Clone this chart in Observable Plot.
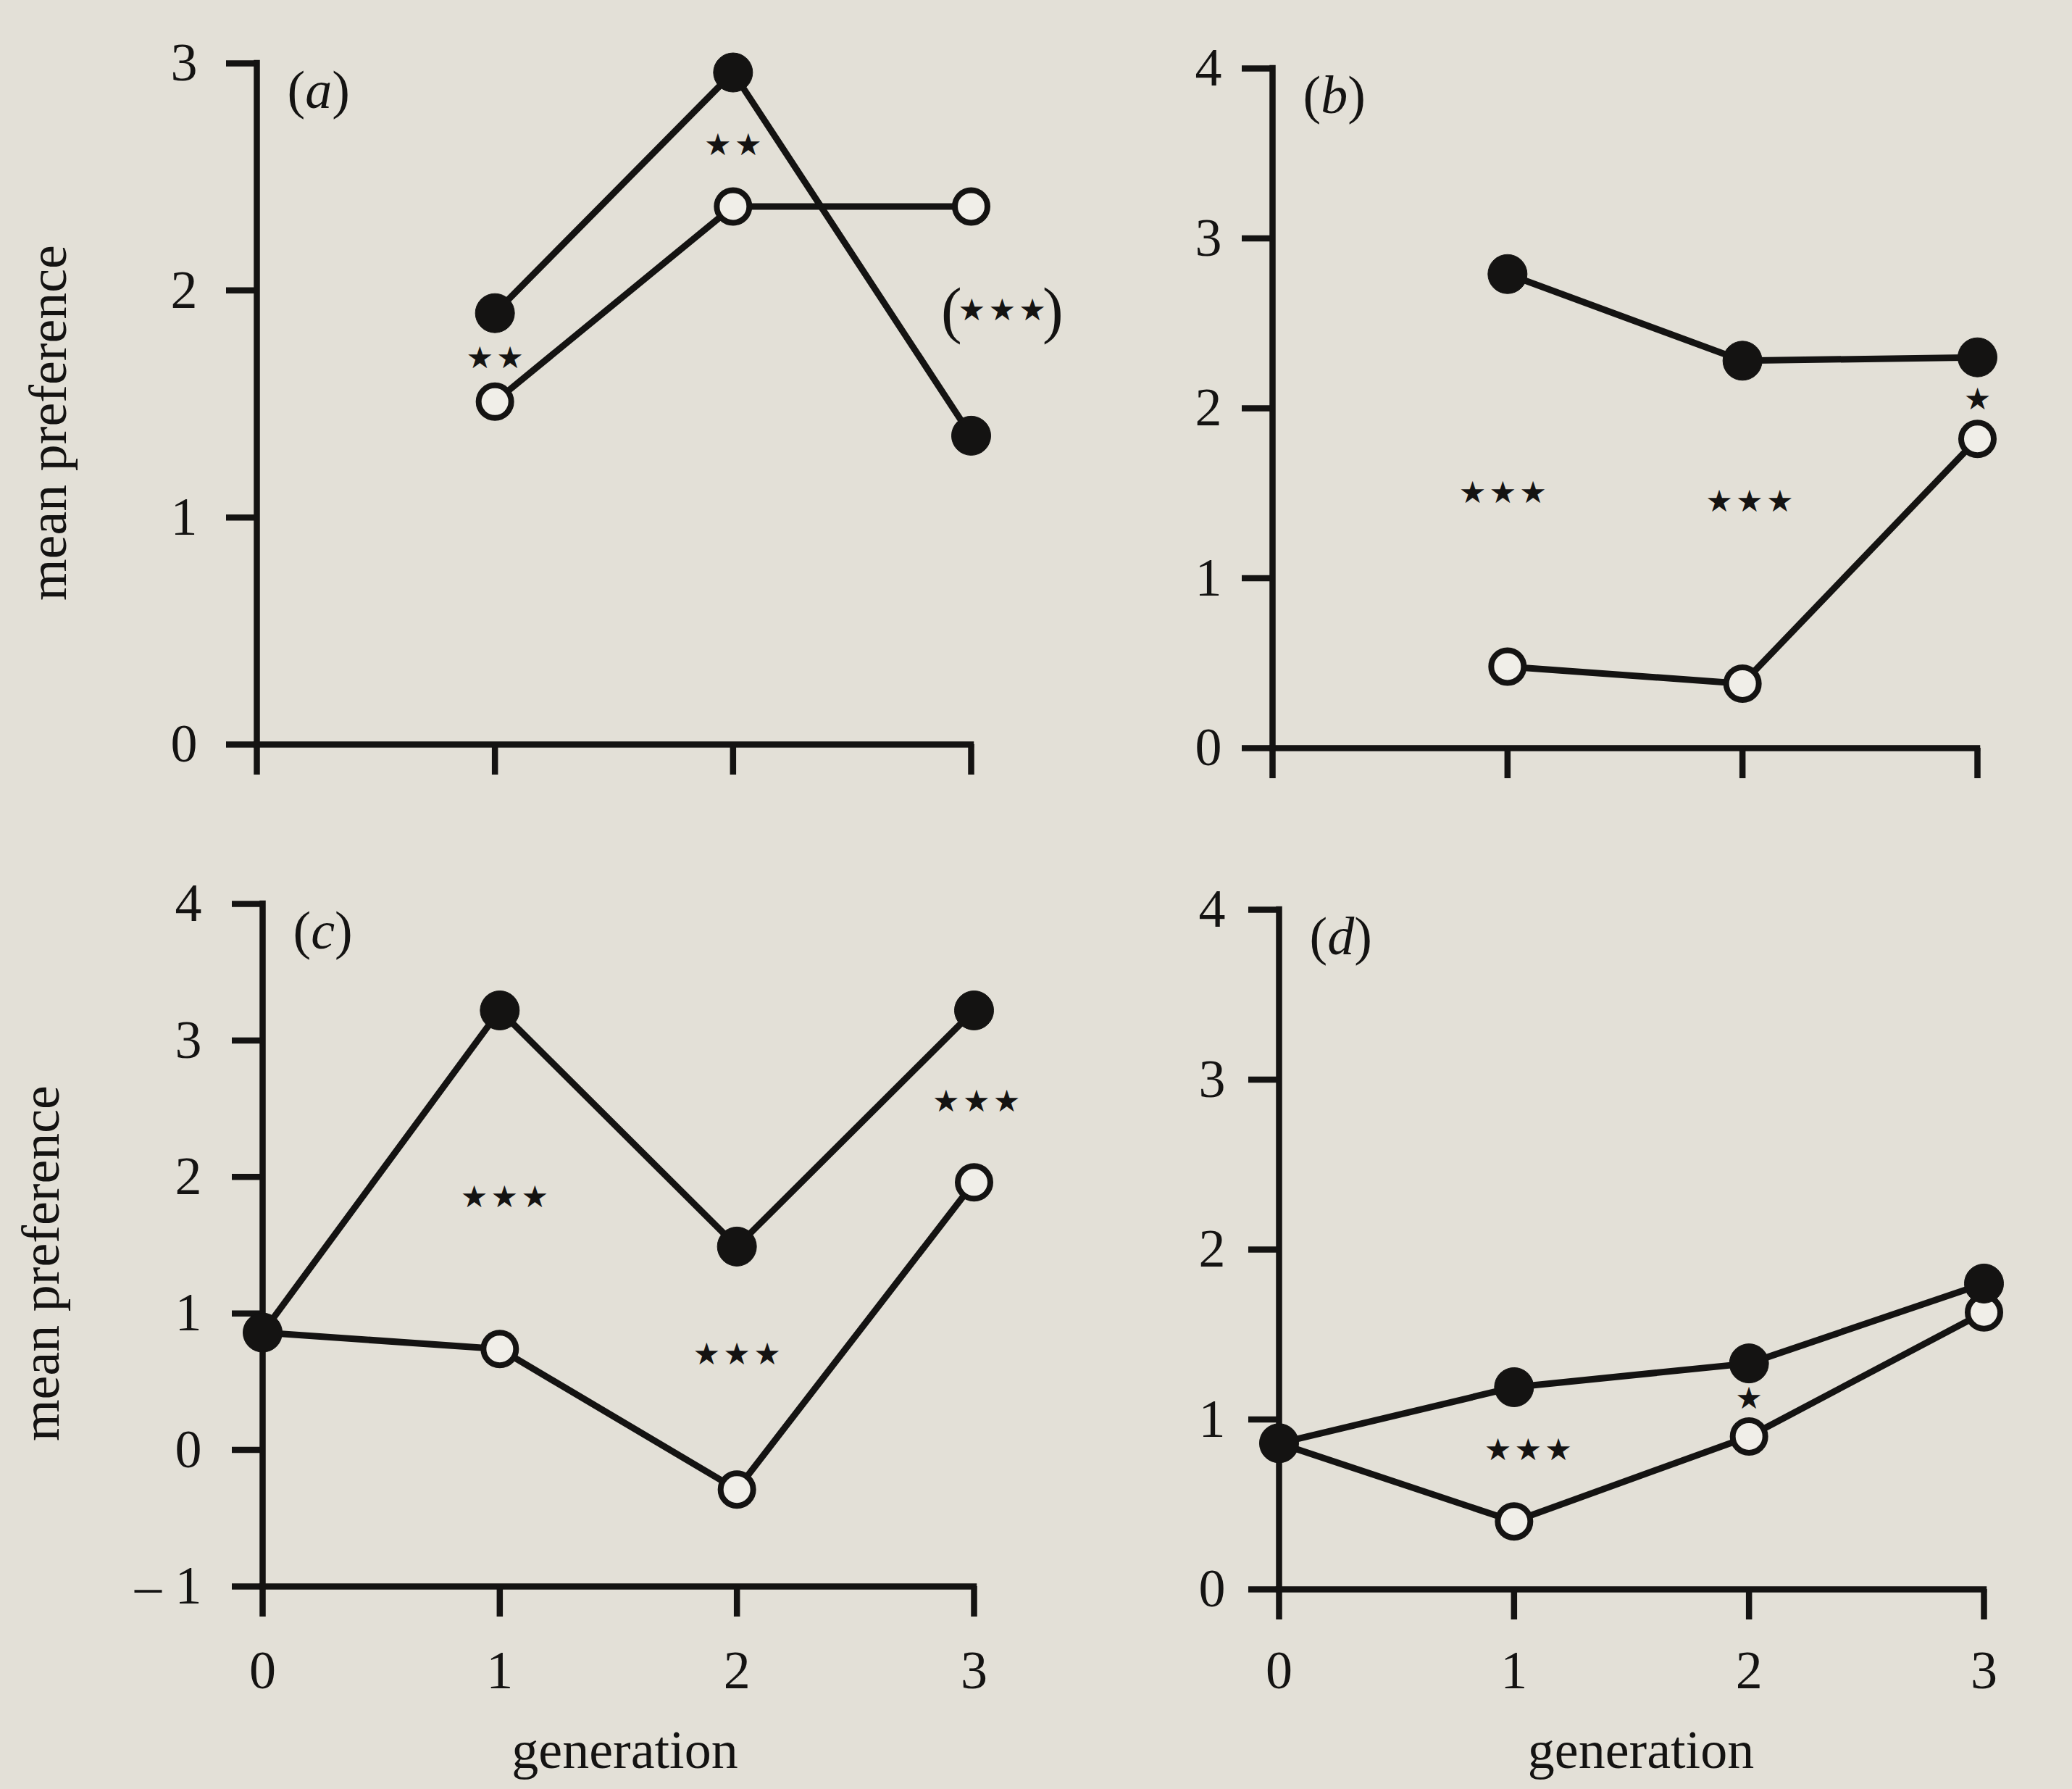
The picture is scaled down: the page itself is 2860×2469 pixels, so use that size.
<!DOCTYPE html>
<html>
<head>
<meta charset="utf-8">
<script src="https://cdn.jsdelivr.net/npm/d3@7"></script>
<script src="https://cdn.jsdelivr.net/npm/@observablehq/plot@0.6"></script>
<style>
html, body { margin: 0; padding: 0; background: #e3e0d7; }
#fig { position: relative; width: 2860px; height: 2469px; overflow: hidden; background: #e3e0d7; }
.panel { position: absolute; }
.panel svg { overflow: visible; max-width: none; }
</style>
</head>
<body>
<div id="fig"></div>
<script>
// ---- data ----
const generations = [0, 1, 2, 3];

// panel (a)
const filledA = [null, 1.90, 2.96, 1.36];
const openA   = [null, 1.51, 2.37, 2.37];
const yTicksA = [0, 1, 2, 3];
const starsA  = [{g: 1, v: 1.70, t: "★\u200A★"}, {g: 2, v: 2.64, t: "★\u200A★"}, {g: 3.13, v: 1.91, t: "★\u200A★\u200A★"}];
const parensA = [{g: 3.13, v: 1.91}];

// panel (b)
const filledB = [null, 2.79, 2.28, 2.30];
const openB   = [null, 0.48, 0.38, 1.82];
const yTicksB = [0, 1, 2, 3, 4];
const starsB  = [{g: 0.98, v: 1.50, t: "★\u200A★\u200A★"}, {g: 2.03, v: 1.45, t: "★\u200A★\u200A★"}, {g: 3.0, v: 2.05, t: "★"}];

// panel (c)
const filledC = [0.86, 3.22, 1.49, 3.22];
const openC   = [0.86, 0.74, -0.29, 1.96];
const yTicksC = [-1, 0, 1, 2, 3, 4];
const starsC  = [{g: 1.02, v: 1.85, t: "★\u200A★\u200A★"}, {g: 2.0, v: 0.70, t: "★\u200A★\u200A★"}, {g: 3.01, v: 2.55, t: "★\u200A★\u200A★"}];

// panel (d)
const filledD = [0.86, 1.19, 1.33, 1.80];
const openD   = [0.86, 0.40, 0.90, 1.63];
const yTicksD = [0, 1, 2, 3, 4];
const starsD  = [{g: 1.06, v: 0.82, t: "★\u200A★\u200A★"}, {g: 2.0, v: 1.12, t: "★"}];

const panelLabels = ["(a)", "(b)", "(c)", "(d)"];
const yTitle = "mean preference";
const xTitle = "generation";

// ---- styling ----
const ink = "#141312";
const paper = "#f0eee8";
const serif = "Liberation Serif, Times New Roman, serif";
const FS = 74;
const LW = 9;

function series(vals) {
  return generations.map((g, i) => ({g, v: vals[i]})).filter(d => d.v != null);
}
function fmtTick(d) { return d < 0 ? "\u2013 " + Math.abs(d) : String(d); }

function panel(cfg) {
  const marks = [
    Plot.ruleY([cfg.yDomain[0]], {stroke: ink, strokeWidth: 8.5, strokeLinecap: "square"}),
    Plot.ruleX([0], {stroke: ink, strokeWidth: 8.5, strokeLinecap: "square"}),
    Plot.axisY({anchor: "left", ticks: cfg.yTicks, tickSize: 42, tickPadding: cfg.yPad,
      tickFormat: fmtTick, label: null, color: ink, strokeWidth: 8.5,
      fontSize: FS, fontFamily: serif}),
    Plot.axisX({anchor: "bottom", ticks: generations, tickSize: 42, tickPadding: cfg.xPad,
      tickFormat: cfg.xLabels ? (d => String(d)) : (() => ""), label: null, color: ink, strokeWidth: 8.5,
      fontSize: FS, fontFamily: serif}),
    Plot.line(series(cfg.open), {x: "g", y: "v", stroke: ink, strokeWidth: LW, strokeLinejoin: "round"}),
    Plot.line(series(cfg.filled), {x: "g", y: "v", stroke: ink, strokeWidth: LW, strokeLinejoin: "round"}),
    Plot.dot(series(cfg.open), {x: "g", y: "v", r: 22.5, fill: paper, stroke: ink, strokeWidth: 8}),
    Plot.dot(series(cfg.filled), {x: "g", y: "v", r: 27, fill: ink, stroke: ink, strokeWidth: 1}),
    Plot.text(cfg.stars, {x: "g", y: "v", text: "t", fontFamily: "DejaVu Sans", fontSize: 42, fill: ink}),
    Plot.text([cfg.label], {frameAnchor: "top-left", dx: 42, dy: 38, textAnchor: "start", lineAnchor: "middle",
      fontFamily: serif, fontSize: FS, fill: ink})
  ];
  if (cfg.parens) {
    marks.push(Plot.text(cfg.parens, {x: "g", y: "v", text: () => "(", dx: -70, fontFamily: serif, fontSize: 86, fill: ink}));
    marks.push(Plot.text(cfg.parens, {x: "g", y: "v", text: () => ")", dx: 70, fontFamily: serif, fontSize: 86, fill: ink}));
  }
  if (cfg.yTitle) {
    marks.push(Plot.text([yTitle], {frameAnchor: "left", rotate: -90, textAnchor: "middle", lineAnchor: "middle",
      dx: cfg.yTitleDx, dy: cfg.yTitleDy, fontFamily: serif, fontSize: FS, fill: ink}));
  }
  if (cfg.xLabels) {
    marks.push(Plot.text([xTitle], {frameAnchor: "bottom", textAnchor: "middle", dx: cfg.xTitleDx, dy: cfg.xTitleDy,
      lineAnchor: "middle", fontFamily: serif, fontSize: FS, fill: ink}));
  }
  const svg = Plot.plot({
    width: cfg.width, height: cfg.height,
    marginLeft: cfg.ml, marginRight: cfg.mr, marginTop: cfg.mt, marginBottom: cfg.mb,
    x: {domain: [0, 3], axis: null, label: null},
    y: {domain: cfg.yDomain, axis: null, label: null},
    style: {background: "transparent", overflow: "visible", fontFamily: serif, color: ink},
    marks
  });
  // upright parentheses, italic letter
  d3.select(svg).selectAll("text").filter(function () {
    return /^\([a-d]\)$/.test(this.textContent);
  }).each(function () {
    const s = this.textContent;
    const t = d3.select(this).text(null);
    t.append("tspan").text("(");
    t.append("tspan").attr("font-style", "italic").text(s[1]);
    t.append("tspan").text(")");
  });
  const div = document.createElement("div");
  div.className = "panel";
  div.style.left = cfg.left + "px";
  div.style.top = cfg.top + "px";
  div.appendChild(svg);
  document.getElementById("fig").appendChild(div);
}

panel({left: 0, top: 0, width: 1540, height: 1150, ml: 354, mr: 200, mt: 87, mb: 123,
  yDomain: [0, 3], yTicks: yTicksA, yPad: 40, xPad: 48, xLabels: false,
  filled: filledA, open: openA, stars: starsA, parens: parensA, label: panelLabels[0],
  yTitle: true, yTitleDx: -287, yTitleDy: 26});

panel({left: 1560, top: 0, width: 1300, height: 1150, ml: 196, mr: 131, mt: 94, mb: 118,
  yDomain: [0, 4], yTicks: yTicksB, yPad: 28, xPad: 48, xLabels: false,
  filled: filledB, open: openB, stars: starsB, label: panelLabels[1], yTitle: false});

panel({left: 0, top: 1150, width: 1540, height: 1319, ml: 362, mr: 196, mt: 97, mb: 280,
  yDomain: [-1, 4], yTicks: yTicksC, yPad: 42, xPad: 46, xLabels: true,
  filled: filledC, open: openC, stars: starsC, label: panelLabels[2],
  yTitle: true, yTitleDx: -305, yTitleDy: 25, xTitleDx: 9, xTitleDy: 227});

panel({left: 1560, top: 1150, width: 1300, height: 1319, ml: 205, mr: 122, mt: 105, mb: 276,
  yDomain: [0, 4], yTicks: yTicksD, yPad: 32, xPad: 42, xLabels: true,
  filled: filledD, open: openD, stars: starsD, label: panelLabels[3], yTitle: false,
  xTitleDx: 13, xTitleDy: 223});
</script>
</body>
</html>
